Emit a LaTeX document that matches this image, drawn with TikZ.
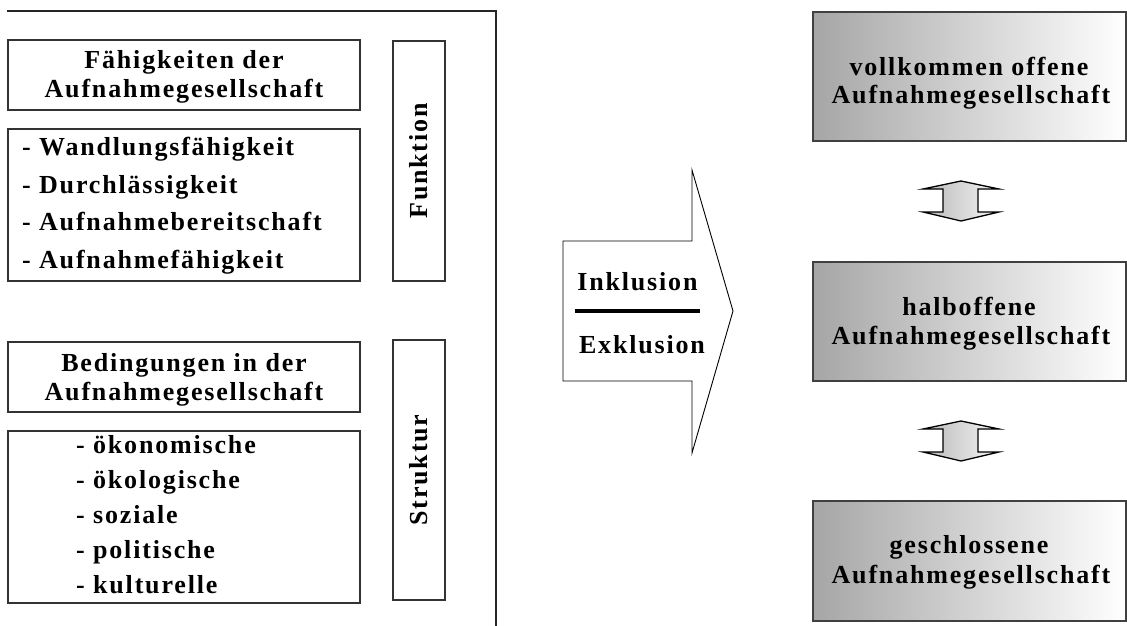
\documentclass[tikz,border=0pt]{standalone}
\usepackage{fontspec}
\newfontfamily\lab[LetterSpace=7]{Liberation Serif}
\begin{document}
\begin{tikzpicture}[x=1pt,y=-1pt,
  frame/.style={draw=black!85,line width=1.1pt},
  box/.style={draw=black!80,line width=1.2pt,rectangle,inner sep=0pt,
    font={\lab\bfseries\fontsize{26}{29}\selectfont},align=center},
  vbox/.style={box,rotate=90,minimum height=52},
  gbox/.style={box,draw=black!75,line width=1.4pt,left color=black!35,right color=white},
  darr/.style={draw=black,line width=1.3pt,line join=miter,left color=black!28,right color=black!4},
  bigarrow/.style={draw=black,line width=0.9pt,fill=white,line join=miter},
  lbl/.style={font={\lab\bfseries\fontsize{26}{29}\selectfont},inner sep=0pt,anchor=base},
  item/.style={lbl,anchor=base west}]
\useasboundingbox (0,0) rectangle (1127,626);

% open frame round the left block
\coordinate (fa) at (7,11);
\coordinate (fb) at (496,11);
\coordinate (fc) at (496,626);
\draw[frame] (fa) -- (fb) -- (fc);

% abilities
\node[box,minimum width=352,minimum height=70] (h1) at (184,75) {};
\node[lbl] (h1a) at (184,68) {Fähigkeiten der};
\node[lbl] (h1b) at (184,97) {Aufnahmegesellschaft};
\node[box,minimum width=352,minimum height=152] (l1) at (184,205) {};
\node[item] (l1a) at (22,155) {- Wandlungsfähigkeit};
\node[item] (l1b) at (22,193) {- Durchlässigkeit};
\node[item] (l1c) at (22,230) {- Aufnahmebereitschaft};
\node[item] (l1d) at (22,268) {- Aufnahmefähigkeit};

% conditions
\node[box,minimum width=352,minimum height=70] (h2) at (184,377) {};
\node[lbl] (h2a) at (184,371) {Bedingungen in der};
\node[lbl] (h2b) at (184,400) {Aufnahmegesellschaft};
\node[box,minimum width=352,minimum height=172] (l2) at (184,517) {};
\node[item] (l2a) at (76,453) {- ökonomische};
\node[item] (l2b) at (76,488) {- ökologische};
\node[item] (l2c) at (76,523) {- soziale};
\node[item] (l2d) at (76,558) {- politische};
\node[item] (l2e) at (76,593) {- kulturelle};

% side labels
\node[vbox,minimum width=240] (fk) at (419,161) {Funktion};
\node[vbox,minimum width=260] (st) at (419,470) {Struktur};

% block arrow
\draw[bigarrow] (563,241) -- (692,241) -- (692,170) -- (733,311)
  -- (692,453) -- (692,381) -- (563,381) -- cycle;
\node[lbl] (inc) at (637.5,290) {Inklusion};
\node[lbl] (exc) at (642,353) {Exklusion};
\coordinate (rl) at (575,311);
\coordinate (rr) at (700,311);
\draw[line width=3.5pt] (rl) -- (rr);

% types of receiving society
\node[gbox,minimum width=313,minimum height=129] (r1) at (969.5,76.5) {};
\node[lbl] (r1a) at (969,75) {vollkommen offene};
\node[lbl] (r1b) at (971,103) {Aufnahmegesellschaft};
\node[gbox,minimum width=313,minimum height=119] (r2) at (969.5,321.5) {};
\node[lbl] (r2a) at (969,315) {halboffene};
\node[lbl] (r2b) at (971,344) {Aufnahmegesellschaft};
\node[gbox,minimum width=313,minimum height=120] (r3) at (969.5,561) {};
\node[lbl] (r3a) at (969,553) {geschlossene};
\node[lbl] (r3b) at (971,583) {Aufnahmegesellschaft};

% double arrows between the types
\coordinate (d1) at (961,201);
\coordinate (d2) at (961,441);
\foreach \c in {d1,d2}{
  \draw[darr,shift={(\c)}] (0,-20) -- (38,-12) -- (17,-12) -- (17,11) -- (38,11)
    -- (0,20) -- (-38,11) -- (-18,11) -- (-18,-12) -- (-38,-12) -- cycle;
}
\end{tikzpicture}
\end{document}
